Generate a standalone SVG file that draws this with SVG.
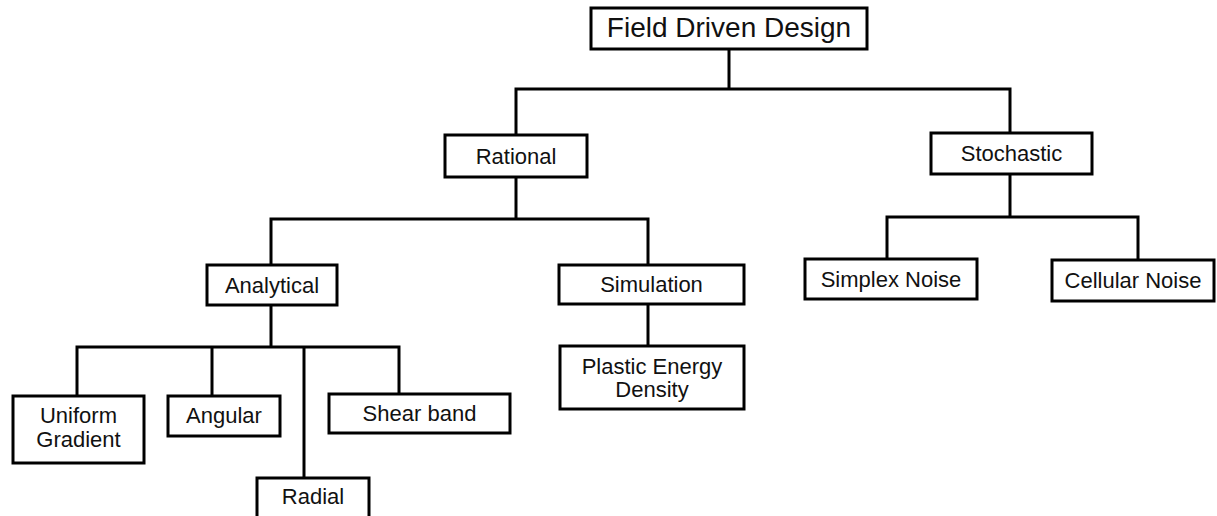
<svg xmlns="http://www.w3.org/2000/svg" width="1217" height="516" viewBox="0 0 1217 516">
<style>
.box{fill:#fff;stroke:#000;stroke-width:3}
.lbl{font-family:"Liberation Sans",Arial,sans-serif;font-size:22px;fill:#111;text-anchor:middle}
.big{font-size:28px}
.conn path{fill:none;stroke:#000;stroke-width:3;stroke-linejoin:miter}
</style>
<rect width="1217" height="516" fill="#fff"/>
<g id="connectors" class="conn">
<path d="M729,49 V89"/>
<path d="M516,135 V89 H1010 V133"/>
<path d="M516,177 V219"/>
<path d="M271,265 V219 H648 V265"/>
<path d="M1010,174 V217"/>
<path d="M887,259 V217 H1138 V260"/>
<path d="M271,305 V347"/>
<path d="M77,396 V347 H399 V394"/>
<path d="M212,347 V396"/>
<path d="M304,347 V478"/>
<path d="M648,304 V346"/>
</g>
<g id="n-fdd"><rect class="box" x="591" y="8" width="276" height="41"/><text class="lbl big" x="729" y="37">Field Driven Design</text></g>
<g id="n-rational"><rect class="box" x="445" y="135" width="142" height="42"/><text class="lbl" x="516" y="164">Rational</text></g>
<g id="n-stochastic"><rect class="box" x="931" y="133" width="161" height="41"/><text class="lbl" x="1011.5" y="161">Stochastic</text></g>
<g id="n-analytical"><rect class="box" x="207" y="265" width="130" height="40"/><text class="lbl" x="272" y="293">Analytical</text></g>
<g id="n-simulation"><rect class="box" x="559" y="265" width="185" height="39"/><text class="lbl" x="651.5" y="292">Simulation</text></g>
<g id="n-simplex"><rect class="box" x="805" y="259" width="172" height="40"/><text class="lbl" x="891" y="287">Simplex Noise</text></g>
<g id="n-cellular"><rect class="box" x="1052" y="260" width="162" height="41"/><text class="lbl" x="1133" y="288">Cellular Noise</text></g>
<g id="n-ped"><rect class="box" x="560" y="346" width="184" height="63"/><text class="lbl" x="652" y="374">Plastic Energy</text><text class="lbl" x="652" y="397">Density</text></g>
<g id="n-uniform"><rect class="box" x="13" y="396" width="131" height="67"/><text class="lbl" x="78.5" y="423">Uniform</text><text class="lbl" x="78.5" y="447">Gradient</text></g>
<g id="n-angular"><rect class="box" x="168" y="396" width="112" height="40"/><text class="lbl" x="224" y="423">Angular</text></g>
<g id="n-shear"><rect class="box" x="329" y="394" width="181" height="39"/><text class="lbl" x="419.5" y="421">Shear band</text></g>
<g id="n-radial"><rect class="box" x="257" y="478" width="112" height="44"/><text class="lbl" x="313" y="504">Radial</text></g>
</svg>
